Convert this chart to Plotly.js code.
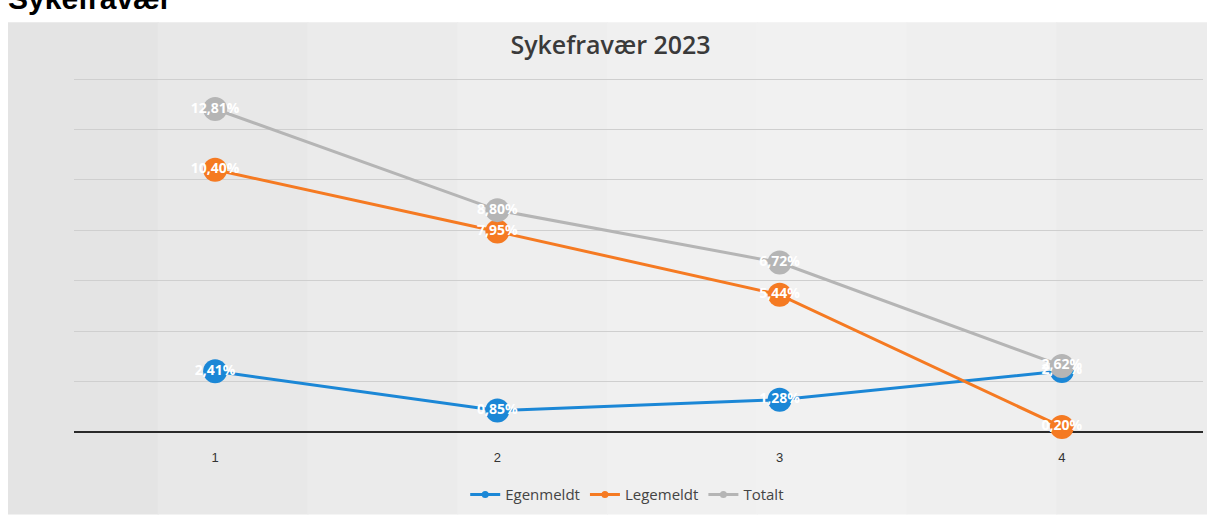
<!DOCTYPE html>
<html>
<head>
<meta charset="utf-8">
<script src="https://cdn.plot.ly/plotly-3.0.1.min.js"></script>
<style>html,body{margin:0;padding:0;background:#fff;}#chart{width:1209px;height:517px;}</style>
</head>
<body>
<div id="chart"></div>
<script>
const categories = ['1', '2', '3', '4'];
const egenmeldt = [2.41, 0.85, 1.28, 2.42];
const legemeldt = [10.40, 7.95, 5.44, 0.20];
const totalt = [12.81, 8.80, 6.72, 2.62];
const seriesNames = ['Egenmeldt', 'Legemeldt', 'Totalt'];
const seriesColors = ['#1b87d6', '#f57a22', '#b5b5b5'];

const fmt = v => v.toFixed(2).replace('.', ',') + '%';

function series(name, vals, color) {
  return {
    type: 'scatter', mode: 'lines+markers+text', name: name, showlegend: false,
    x: categories, y: vals,
    text: vals.map(fmt), textposition: 'middle center',
    textfont: {family: 'Open Sans, Liberation Sans, sans-serif', size: 14, color: '#ffffff', weight: 'bold'},
    line: {color: color, width: 3},
    marker: {color: color, size: 24},
    cliponaxis: false
  };
}
function legendItem(name, color) {
  return {type: 'scatter', mode: 'lines+markers', name: name, x: [null], y: [null],
    line: {color: color, width: 3}, marker: {color: color, size: 7}, showlegend: true};
}

const traces = [
  series(seriesNames[0], egenmeldt, seriesColors[0]),
  series(seriesNames[1], legemeldt, seriesColors[1]),
  series(seriesNames[2], totalt, seriesColors[2]),
  legendItem(seriesNames[0], seriesColors[0]),
  legendItem(seriesNames[1], seriesColors[1]),
  legendItem(seriesNames[2], seriesColors[2])
];

// background bands (scan look)
const W = 1129, H = 358, L = 74, T = 76;
const px = v => (v - L) / W;
const py = v => (T + H - v) / H;
const bands = ['#e4e4e4', '#e8e8e8', '#ebebeb', '#eeeeee', '#f0f0f0', '#f1f1f1', '#efefef', '#ececec'];
const shapes = [];
const bx0 = 8, bx1 = 1206, bw = (bx1 - bx0) / bands.length;
bands.forEach((c, i) => {
  shapes.push({type: 'rect', xref: 'paper', yref: 'paper', layer: 'below',
    x0: px(bx0 + i * bw), x1: px(bx0 + (i + 1) * bw + 1), y0: py(517), y1: py(22),
    fillcolor: c, line: {width: 0}});
});

const layout = {
  width: 1209, height: 517,
  margin: {l: L, r: 1209 - L - W, t: T, b: 517 - T - H},
  paper_bgcolor: '#ffffff', plot_bgcolor: 'rgba(0,0,0,0)',
  title: {text: 'Sykefravær 2023', x: 0.505, xanchor: 'center', y: 1 - 45 / 517, yanchor: 'middle',
    font: {family: 'Open Sans, Liberation Sans, sans-serif', size: 25, color: '#3a3a3a', weight: 600}},
  xaxis: {type: 'category', range: [-0.5, 3.5], showgrid: false, zeroline: false,
    showline: false, ticks: '', ticklabelstandoff: 16,
    tickfont: {family: 'Liberation Sans, sans-serif', size: 13, color: '#333'}},
  yaxis: {range: [0, 14.12], tickvals: [2, 4, 6, 8, 10, 12, 14], showticklabels: false, showgrid: true,
    gridcolor: '#cfcfcf', gridwidth: 1,
    zeroline: true, zerolinecolor: '#2a2a2a', zerolinewidth: 2, fixedrange: true},
  showlegend: true,
  legend: {orientation: 'h', x: 0.49, xanchor: 'center', y: py(497), yanchor: 'middle',
    font: {family: 'Open Sans, Liberation Sans, sans-serif', size: 15, color: '#444'}, bgcolor: 'rgba(0,0,0,0)'},
  shapes: shapes,
  annotations: [{
    text: '<b>Sykefravær</b>', xref: 'paper', yref: 'paper', x: px(6), xanchor: 'left',
    y: py(-2), yanchor: 'middle', showarrow: false,
    font: {family: 'Liberation Sans, Arial, sans-serif', size: 30, color: '#000'}
  }]
};

Plotly.newPlot('chart', traces, layout, {displayModeBar: false, staticPlot: true});
</script>
</body>
</html>
